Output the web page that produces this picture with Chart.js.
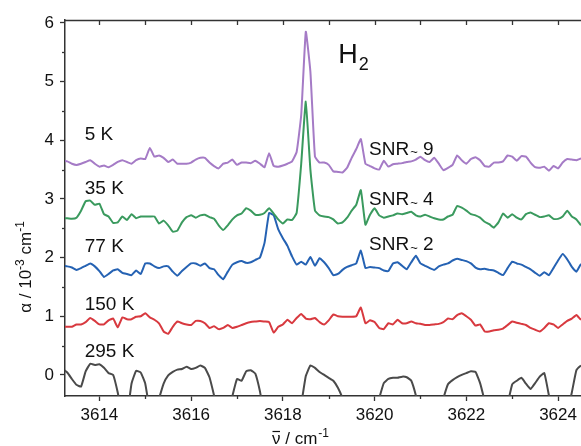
<!DOCTYPE html>
<html><head><meta charset="utf-8">
<script src="https://cdn.jsdelivr.net/npm/chart.js@4/dist/chart.umd.min.js"></script>
<style>html,body{margin:0;padding:0;background:#fff;overflow:hidden}</style>
</head><body>
<canvas id="c" width="581" height="446"></canvas>
<script>
// wavenumber grid (cm-1)
const WAVENUMBER = [
3613.2,3613.3,3613.4,3613.5,3613.6,3613.7,3613.8,3613.9,
3614.0,3614.1,3614.2,3614.3,3614.4,3614.5,3614.6,3614.7,3614.8,3614.9,
3615.0,3615.1,3615.2,3615.3,3615.4,3615.5,3615.6,3615.7,3615.8,3615.9,
3616.0,3616.1,3616.2,3616.3,3616.4,3616.5,3616.6,3616.7,3616.8,3616.9,
3617.0,3617.1,3617.2,3617.3,3617.4,3617.5,3617.6,3617.7,3617.8,3617.9,
3618.0,3618.1,3618.2,3618.3,3618.4,3618.5,3618.6,3618.7,3618.8,3618.9,
3619.0,3619.1,3619.2,3619.3,3619.4,3619.5,3619.6,3619.7,3619.8,3619.9,
3620.0,3620.1,3620.2,3620.3,3620.4,3620.5,3620.6,3620.7,3620.8,3620.9,
3621.0,3621.1,3621.2,3621.3,3621.4,3621.5,3621.6,3621.7,3621.8,3621.9,
3622.0,3622.1,3622.2,3622.3,3622.4,3622.5,3622.6,3622.7,3622.8,3622.9,
3623.0,3623.1,3623.2,3623.3,3623.4,3623.5,3623.6,3623.7,3623.8,3623.9,
3624.0,3624.1,3624.2,3624.3,3624.4,3624.5,3624.6];

// absorption alpha (10^-3 cm^-1), offset traces as plotted
const ALPHA_5K = [
3.65,3.64,3.60,3.58,3.60,3.63,3.66,3.60,
3.55,3.57,3.54,3.58,3.63,3.66,3.63,3.60,3.66,3.69,
3.68,3.87,3.72,3.74,3.70,3.63,3.67,3.60,3.60,3.60,
3.62,3.67,3.70,3.70,3.62,3.56,3.52,3.60,3.62,3.67,
3.58,3.62,3.62,3.61,3.65,3.60,3.54,3.78,3.56,3.55,
3.57,3.60,3.64,3.80,4.43,5.85,5.17,3.72,3.62,3.62,
3.58,3.47,3.46,3.45,3.53,3.70,3.85,4.02,3.60,3.56,
3.52,3.50,3.65,3.55,3.59,3.60,3.61,3.63,3.64,3.67,
3.72,3.66,3.63,3.70,3.60,3.49,3.53,3.58,3.74,3.66,
3.60,3.68,3.71,3.66,3.56,3.55,3.62,3.62,3.64,3.74,
3.72,3.65,3.73,3.72,3.62,3.54,3.53,3.55,3.48,3.56,
3.52,3.62,3.68,3.67,3.66,3.69,3.68];

const ALPHA_35K = [
2.67,2.67,2.66,2.68,2.80,2.96,2.97,2.90,
2.92,2.74,2.70,2.59,2.60,2.70,2.64,2.74,2.67,2.70,
2.70,2.70,2.70,2.58,2.63,2.55,2.44,2.46,2.60,2.69,
2.72,2.68,2.72,2.73,2.69,2.66,2.55,2.47,2.55,2.65,
2.72,2.75,2.84,2.80,2.73,2.73,2.76,2.84,2.75,2.65,
2.58,2.65,2.64,2.76,3.60,4.66,3.50,2.80,2.72,2.70,
2.69,2.65,2.58,2.60,2.68,2.80,2.90,3.15,2.56,2.73,
2.84,2.72,2.68,2.70,2.72,2.75,2.74,2.76,2.78,2.72,
2.70,2.73,2.70,2.67,2.65,2.65,2.70,2.73,2.88,2.85,
2.80,2.74,2.72,2.68,2.61,2.57,2.51,2.60,2.75,2.68,
2.74,2.68,2.65,2.74,2.77,2.73,2.69,2.70,2.72,2.66,
2.66,2.70,2.80,2.70,2.65,2.55,2.50];

const ALPHA_77K = [
1.86,1.85,1.83,1.79,1.82,1.86,1.90,1.85,
1.77,1.67,1.72,1.78,1.80,1.74,1.72,1.70,1.78,1.72,
1.90,1.90,1.85,1.82,1.85,1.85,1.76,1.69,1.77,1.84,
1.90,1.90,1.86,1.90,1.82,1.80,1.70,1.63,1.76,1.88,
1.92,1.94,1.91,1.92,1.96,2.00,2.25,2.76,2.72,2.48,
2.33,2.20,2.02,1.88,1.93,1.88,2.01,1.86,1.99,1.92,
1.82,1.70,1.72,1.79,1.84,1.87,1.90,2.12,1.82,1.84,
1.83,1.82,1.78,1.77,1.90,1.92,1.86,1.80,1.92,2.03,
1.90,1.86,1.82,1.79,1.85,1.88,1.90,1.95,1.98,1.96,
1.94,1.90,1.83,1.80,1.81,1.79,1.78,1.74,1.70,1.82,
1.93,1.90,1.88,1.84,1.80,1.74,1.69,1.75,1.70,1.82,
1.95,2.06,1.97,1.84,1.76,1.89,1.90];

const ALPHA_150K = [
0.82,0.82,0.82,0.86,0.86,0.90,0.97,0.92,
0.86,0.86,0.93,0.96,0.81,0.98,0.95,0.95,0.99,1.00,
1.05,0.98,0.94,0.88,0.74,0.70,0.82,0.91,0.88,0.86,
0.85,0.92,0.92,0.88,0.80,0.83,0.78,0.80,0.85,0.80,
0.82,0.85,0.88,0.90,0.91,0.92,0.91,0.90,0.72,0.82,
0.86,0.94,0.88,0.97,1.04,0.96,0.95,0.97,0.90,0.86,
0.93,1.03,1.00,0.99,0.99,0.99,1.00,1.15,0.88,0.93,
0.90,0.80,0.78,0.88,0.86,0.94,0.88,0.88,0.91,0.88,
0.87,0.85,0.85,0.86,0.87,0.90,0.96,0.95,1.02,1.05,
1.00,0.94,0.84,0.86,0.74,0.74,0.76,0.77,0.79,0.85,
0.91,0.89,0.87,0.85,0.80,0.77,0.74,0.80,0.88,0.86,
0.80,0.86,0.92,0.96,1.02,0.94,0.92];

const ALPHA_295K = [
0.10,0.04,-0.07,-0.17,-0.20,0.06,0.19,0.17,
0.18,0.12,0.03,0.00,-0.30,-0.70,-0.70,-0.15,0.07,0.04,
-0.15,-0.60,-0.60,-0.40,-0.15,-0.01,0.05,0.09,0.10,0.14,
0.10,0.12,0.16,0.12,-0.04,-0.35,-0.70,-0.80,-0.70,-0.36,
-0.07,-0.10,0.06,0.08,0.02,-0.28,-0.70,-0.80,-0.80,-0.80,
-0.80,-0.80,-0.80,-0.80,-0.50,-0.02,0.16,0.12,0.05,0.00,
-0.05,-0.10,-0.22,-0.40,-0.70,-0.80,-0.80,-0.80,-0.80,-0.80,
-0.70,-0.40,-0.14,-0.07,-0.05,-0.05,-0.03,-0.04,-0.10,-0.35,
-0.70,-0.80,-0.80,-0.80,-0.70,-0.40,-0.16,-0.09,-0.04,0.00,
0.03,0.06,0.05,-0.14,-0.45,-0.80,-0.80,-0.80,-0.80,-0.50,
-0.16,-0.10,-0.05,-0.15,-0.24,-0.14,-0.03,0.03,-0.35,-0.80,
-0.80,-0.80,-0.60,-0.30,0.08,0.16,0.20];

const SERIES_NAMES = ['5 K', '35 K', '77 K', '150 K', '295 K'];
const SNR_VALUES = ['9', '4', '2'];
const X_TICKS = [3614, 3616, 3618, 3620, 3622, 3624];
const X_MINOR = [3615, 3617, 3619, 3621, 3623];
const X_TOP = [3614,3615,3616,3617,3618,3619,3620,3621,3622,3623,3624];
const Y_TICKS = [0, 1, 2, 3, 4, 5, 6];
const Y_MINOR = [0.5, 1.5, 2.5, 3.5, 4.5, 5.5];

const FONT = "'Liberation Sans', Arial, Helvetica, sans-serif";
const AXIS = '#333333';
const TXT = '#111111';

function ds(name, vals, color) {
  return {
    label: name,
    data: WAVENUMBER.map((x, i) => ({x: x, y: vals[i]})),
    borderColor: color, backgroundColor: color,
    borderWidth: 2, pointRadius: 0, fill: false,
    tension: 0.12, borderJoinStyle: 'round'
  };
}

const decor = {
  id: 'decor',
  afterDraw(chart) {
    const {ctx, chartArea: a, scales: {x, y}} = chart;
    ctx.save();
    ctx.strokeStyle = AXIS; ctx.lineWidth = 1.3;
    ctx.beginPath(); ctx.moveTo(a.left, a.top + 0.5); ctx.lineTo(a.right, a.top + 0.5); ctx.stroke();
    X_TOP.forEach(v => { const px = Math.round(x.getPixelForValue(v)) + 0.5;
      ctx.beginPath(); ctx.moveTo(px, a.top); ctx.lineTo(px, a.top + 5); ctx.stroke(); });
    X_MINOR.forEach(v => { const px = Math.round(x.getPixelForValue(v)) + 0.5;
      ctx.beginPath(); ctx.moveTo(px, a.bottom); ctx.lineTo(px, a.bottom + 3); ctx.stroke(); });
    Y_MINOR.forEach(v => { const py = Math.round(y.getPixelForValue(v)) + 0.5;
      ctx.beginPath(); ctx.moveTo(a.left, py); ctx.lineTo(a.left - 3, py); ctx.stroke(); });

    ctx.fillStyle = TXT;
    ctx.textBaseline = 'middle'; ctx.textAlign = 'left';
    ctx.font = '19px ' + FONT;
    const labY = [4.09, 3.18, 2.19, 1.19, 0.4];
    SERIES_NAMES.forEach((n, i) => {
      ctx.fillText(n, x.getPixelForValue(3613.68), y.getPixelForValue(labY[i]));
    });
    const snrY = [3.84, 2.98, 2.21];
    SNR_VALUES.forEach((v, i) => {
      let px = x.getPixelForValue(3619.88), py = y.getPixelForValue(snrY[i]);
      ctx.textBaseline = 'middle';
      ctx.font = '19px ' + FONT; ctx.fillText('SNR', px, py);
      px += ctx.measureText('SNR').width + 1;
      ctx.font = '13px ' + FONT; ctx.fillText('~', px, py + 3);
      px += ctx.measureText('~').width;
      ctx.font = '19px ' + FONT; ctx.fillText(' ' + v, px, py);
    });
    ctx.textBaseline = 'alphabetic';
    let hx = x.getPixelForValue(3619.21), hy = y.getPixelForValue(5.32);
    ctx.font = '27px ' + FONT; ctx.fillText('H', hx, hy);
    hx += ctx.measureText('H').width + 1;
    ctx.font = '18px ' + FONT; ctx.fillText('2', hx, hy + 7);

    let tx = 272, ty = 444;
    ctx.font = '17px ' + FONT; ctx.fillText('\u03BD', tx, ty);
    const nw = ctx.measureText('\u03BD').width;
    ctx.lineWidth = 1.2; ctx.strokeStyle = TXT;
    ctx.beginPath(); ctx.moveTo(tx + 0.5, ty - 12.5); ctx.lineTo(tx + nw - 0.5, ty - 12.5); ctx.stroke();
    tx += nw; ctx.fillText(' / cm', tx, ty); tx += ctx.measureText(' / cm').width;
    ctx.font = '12px ' + FONT; ctx.fillText('-1', tx + 1, ty - 7);

    ctx.save();
    ctx.translate(31, 267); ctx.rotate(-Math.PI / 2);
    const parts = [['\u03B1 / 10', 17, 0], ['-3', 12, -7], [' cm', 17, 0], ['-1', 12, -7]];
    let tot = 0;
    parts.forEach(p => { ctx.font = p[1] + 'px ' + FONT; tot += ctx.measureText(p[0]).width; });
    let cx = -tot / 2;
    parts.forEach(p => { ctx.font = p[1] + 'px ' + FONT; ctx.fillText(p[0], cx, p[2]); cx += ctx.measureText(p[0]).width; });
    ctx.restore();
    ctx.restore();
  }
};

new Chart(document.getElementById('c'), {
  type: 'line',
  data: { datasets: [
    ds(SERIES_NAMES[0], ALPHA_5K, '#a57bc6'),
    ds(SERIES_NAMES[1], ALPHA_35K, '#3a9a5e'),
    ds(SERIES_NAMES[2], ALPHA_77K, '#2562b3'),
    ds(SERIES_NAMES[3], ALPHA_150K, '#d8393f'),
    ds(SERIES_NAMES[4], ALPHA_295K, '#4a4a4a')
  ]},
  options: {
    responsive: false, animation: false, devicePixelRatio: 1,
    layout: { padding: { top: 20, right: 0, left: 0, bottom: 0 } },
    plugins: { legend: { display: false }, tooltip: { enabled: false } },
    scales: {
      x: {
        type: 'linear', min: 3613.25, max: 3624.5,
        afterBuildTicks: s => { s.ticks = X_TICKS.map(v => ({ value: v })); },
        afterFit: s => { s.height = 50; },
        ticks: { font: { family: FONT, size: 17 }, color: TXT, padding: 4, maxRotation: 0, autoSkip: false,
                 callback: v => String(v) },
        grid: { drawOnChartArea: false, drawTicks: true, tickLength: 5, tickWidth: 1.3, tickColor: AXIS },
        border: { display: true, color: AXIS, width: 1.5 }
      },
      y: {
        min: -0.36, max: 6.05,
        afterBuildTicks: s => { s.ticks = Y_TICKS.map(v => ({ value: v })); },
        afterFit: s => { s.width = 65; },
        ticks: { font: { family: FONT, size: 17 }, color: TXT, padding: 6, callback: v => String(v) },
        grid: { drawOnChartArea: false, drawTicks: true, tickLength: 5, tickWidth: 1.3, tickColor: AXIS },
        border: { display: true, color: AXIS, width: 1.5 }
      }
    }
  },
  plugins: [decor]
});
</script>
</body></html>
